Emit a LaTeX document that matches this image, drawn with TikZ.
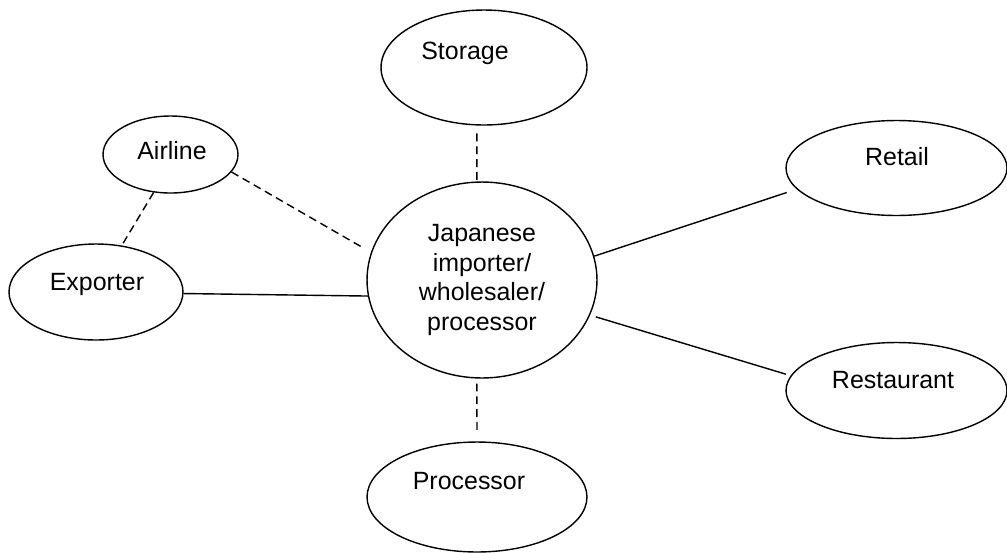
\documentclass[tikz,border=0pt]{standalone}
\usepackage{fontspec}
\setmainfont{Liberation Sans}
\usetikzlibrary{shapes.geometric}

\begin{document}
\begin{tikzpicture}[
    x=0.02cm, y=-0.02cm,
    blob/.style={ellipse, draw=black, line width=0.8pt, inner sep=0pt},
    tag/.style={anchor=base, font=\fontsize{14.2}{17}\selectfont},
    link/.style={line width=0.8pt},
    dashlink/.style={line width=0.8pt, dash pattern=on 4.5pt off 2.8pt}
]
\useasboundingbox (0,0) rectangle (1007,552);

% Hub
\node[blob, minimum width=4.6cm, minimum height=3.92cm, align=center, font=\fontsize{14.2}{17}\selectfont] (importer) at (482,280) {Japanese\\importer/\\wholesaler/\\processor};

% Partners
\node[blob, minimum width=4.12cm, minimum height=2.3cm] (storage) at (484,67.5) {};
\node[blob, minimum width=2.7cm, minimum height=1.54cm] (airline) at (170.5,154.5) {};
\node[blob, minimum width=3.48cm, minimum height=1.92cm] (exporter) at (96,292) {};
\node[blob, minimum width=4.42cm, minimum height=1.9cm] (retail) at (896.5,168) {};
\node[blob, minimum width=4.42cm, minimum height=1.92cm] (restaurant) at (896.5,390.5) {};
\node[blob, minimum width=4.4cm, minimum height=2.2cm] (processor) at (477,497) {};

% Labels
\node[tag] (storage-txt) at ([shift={(-19,-8.5)}]storage.center) {Storage};
\node[tag] (airline-txt) at ([shift={(1.5,4.5)}]airline.center) {Airline};
\node[tag] (exporter-txt) at ([shift={(1,-2)}]exporter.center) {Exporter};
\node[tag] (retail-txt) at ([shift={(0.5,-3)}]retail.center) {Retail};
\node[tag] (restaurant-txt) at ([shift={(-3.5,-2.5)}]restaurant.center) {Restaurant};
\node[tag] (processor-txt) at ([shift={(-8,-8)}]processor.center) {Processor};

% Links
\draw[dashlink, shorten <=4.5pt] (storage.263) -- (importer.93);
\draw[dashlink, shorten <=2.8pt, shorten >=5pt] (importer.267) -- (processor.90);
\draw[dashlink, shorten >=5.8pt] (airline.344) -- (importer.166);
\draw[dashlink] (airline.246) -- (exporter.61);
\draw[link] (exporter.359) -- (importer.188);
\draw[link, shorten >=6pt] (importer.12) -- (retail.192);
\draw[link, shorten <=3.4pt, shorten >=2.8pt] (importer.342) -- (restaurant.172);
\end{tikzpicture}
\end{document}
